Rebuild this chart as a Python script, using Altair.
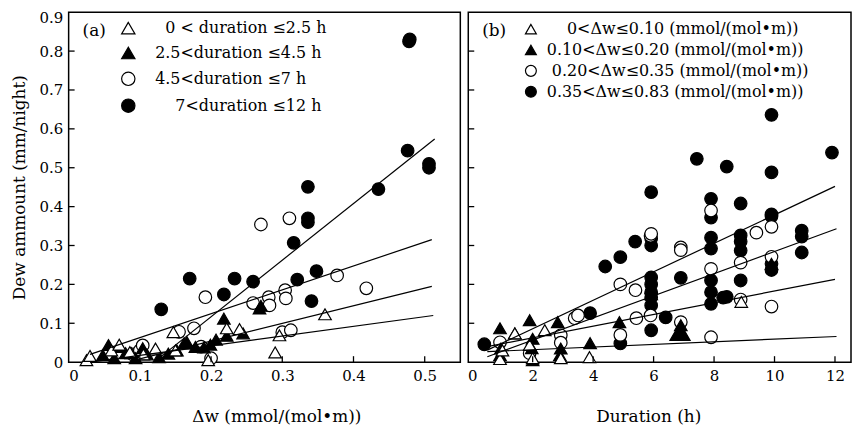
import altair as alt
import pandas as pd

FONT = "DejaVu Serif"
Z = "\u200b"   # keeps the leading non-breaking spaces from being trimmed
S = "\u00a0"

# ---------------- Panel (a): dew amount vs Δw, grouped by duration ----------------
a_labels = [Z + S * 2 + "0 < duration ≤2.5 h", "2.5<duration ≤4.5 h",
            "4.5<duration ≤7 h", Z + S * 4 + "7<duration ≤12 h"]
shapes = ["triangle-up", "triangle-up", "circle", "circle"]
fills = ["white", "black", "white", "black"]
strokes = ["black", "black", "black", "black"]

# 7 < duration <= 12 h (filled circles)
a4_x = [0.130, 0.170, 0.218, 0.233, 0.259, 0.316, 0.321, 0.336, 0.336, 0.336, 0.341, 0.348,
        0.435, 0.476, 0.479, 0.478, 0.506, 0.506]
a4_y = [0.136, 0.215, 0.174, 0.215, 0.207, 0.307, 0.212, 0.360, 0.370, 0.451, 0.157, 0.234,
        0.445, 0.544, 0.830, 0.825, 0.500, 0.510]
# 4.5 < duration <= 7 h (open circles)
a3_x = [0.090, 0.100, 0.104, 0.155, 0.176, 0.186, 0.192, 0.200, 0.259, 0.270, 0.281, 0.282,
        0.300, 0.304, 0.305, 0.310, 0.312, 0.377, 0.418]
a3_y = [0.020, 0.030, 0.043, 0.078, 0.087, 0.040, 0.167, 0.010, 0.152, 0.354, 0.167, 0.146,
        0.077, 0.185, 0.164, 0.370, 0.082, 0.223, 0.190]
# 2.5 < duration <= 4.5 h (filled triangles)
a2_x = [0.048, 0.056, 0.064, 0.072, 0.080, 0.088, 0.094, 0.104, 0.110, 0.127, 0.140, 0.152,
        0.162, 0.166, 0.178, 0.190, 0.199, 0.207, 0.218, 0.222, 0.245, 0.268, 0.270]
a2_y = [0.018, 0.044, 0.010, 0.039, 0.023, 0.023, 0.010, 0.036, 0.020, 0.013, 0.022, 0.030,
        0.048, 0.052, 0.039, 0.038, 0.045, 0.058, 0.112, 0.068, 0.074, 0.138, 0.145]
# 0 < duration <= 2.5 h (open triangles)
a1_x = [0.025, 0.030, 0.060, 0.071, 0.086, 0.105, 0.122, 0.147, 0.150, 0.196, 0.222, 0.240,
        0.290, 0.296, 0.360]
a1_y = [0.005, 0.016, 0.030, 0.045, 0.026, 0.020, 0.035, 0.077, 0.030, 0.005, 0.087, 0.085,
        0.025, 0.069, 0.123]

# fitted lines (start/end points)
a_line_x = [[0.03, 0.512], [0.09, 0.51], [0.03, 0.51], [0.12, 0.514]]
a_line_y = [[0.000, 0.120], [0.004, 0.195], [0.020, 0.315], [0.000, 0.574]]

# ---------------- Panel (b): dew amount vs duration, grouped by Δw ----------------
b_labels = [Z + S * 4 + "0<Δw≤0.10 (mmol/(mol•m))", "0.10<Δw≤0.20 (mmol/(mol•m))",
            Z + S + "0.20<Δw≤0.35 (mmol/(mol•m))", "0.35<Δw≤0.83 (mmol/(mol•m))"]

b4_x = [0.40, 3.90, 4.40, 4.90, 4.90, 5.39, 5.92, 5.92, 5.92, 5.92, 5.92, 5.92, 5.92, 5.92,
        5.92, 6.40, 6.90, 7.43, 7.90, 7.90, 7.90, 7.90, 7.90, 7.90, 7.90, 8.30, 8.42, 8.42,
        8.88, 8.88, 8.88, 8.88, 8.88, 9.90, 9.90, 9.90, 9.90, 9.90, 9.90, 10.90, 10.90, 10.90,
        11.90]
b4_y = [0.046, 0.126, 0.246, 0.270, 0.048, 0.310, 0.437, 0.318, 0.300, 0.218, 0.200, 0.180,
        0.167, 0.146, 0.082, 0.115, 0.217, 0.523, 0.420, 0.372, 0.320, 0.292, 0.210, 0.180,
        0.150, 0.166, 0.503, 0.168, 0.408, 0.326, 0.310, 0.287, 0.210, 0.636, 0.488, 0.380,
        0.375, 0.253, 0.237, 0.338, 0.323, 0.282, 0.539]
b3_x = [0.92, 1.90, 2.93, 2.93, 3.39, 3.50, 4.90, 4.90, 5.40, 5.43, 5.90, 5.90, 5.92, 6.90,
        6.90, 6.90, 7.90, 7.90, 7.90, 8.88, 8.88, 9.40, 9.90, 9.90, 9.90]
b3_y = [0.051, 0.023, 0.069, 0.050, 0.113, 0.120, 0.200, 0.070, 0.185, 0.113, 0.120, 0.325,
        0.330, 0.295, 0.288, 0.103, 0.240, 0.390, 0.064, 0.256, 0.161, 0.333, 0.348, 0.271,
        0.143]
b2_x = [0.92, 0.92, 0.95, 1.41, 1.90, 1.97, 2.00, 2.00, 2.83, 2.90, 2.93, 3.90, 4.87, 5.92,
        5.92, 6.75, 6.90, 6.90, 7.00, 9.90]
b2_y = [0.087, 0.018, 0.035, 0.074, 0.108, 0.036, 0.005, 0.060, 0.103, 0.018, 0.035, 0.049,
        0.103, 0.190, 0.175, 0.070, 0.095, 0.080, 0.070, 0.253]
b1_x = [0.92, 1.00, 1.41, 1.90, 2.00, 2.40, 2.93, 3.88, 8.90]
b1_y = [0.008, 0.030, 0.074, 0.044, 0.010, 0.082, 0.010, 0.013, 0.155]

b_line_x = [[0.5, 12.05], [0.5, 12.0], [0.5, 12.05], [0.5, 12.0]]
b_line_y = [[0.027, 0.066], [0.040, 0.213], [0.014, 0.343], [0.031, 0.452]]

# axis ticks
y_ticks = [0, 0.1, 0.2, 0.3, 0.4, 0.5, 0.6, 0.7, 0.8, 0.9]
a_x_ticks = [0, 0.1, 0.2, 0.3, 0.4, 0.5]
b_x_ticks = [0, 2, 4, 6, 8, 10, 12]
y_inner_ticks = [0.1, 0.2, 0.3, 0.4, 0.5, 0.6, 0.7, 0.8]
a_inner_xticks = [0.1, 0.2, 0.3, 0.4, 0.5]
b_inner_xticks = [2, 4, 6, 8, 10, 12]

W_A, W_B, H = 394, 385, 352
TICK = 6


def points_df(xs_list, ys_list, labels, order, field):
    rows = []
    for i in order:
        for x, y in zip(xs_list[i], ys_list[i]):
            rows.append({"x": x, "y": y, field: labels[i]})
    return pd.DataFrame(rows)


def lines_df(lx, ly):
    rows = []
    for i, (xs, ys) in enumerate(zip(lx, ly)):
        for x, y in zip(xs, ys):
            rows.append({"x": x, "y": y, "line": i})
    return pd.DataFrame(rows)


def make_legend(lx, ly, loff, ssize, rpad):
    return alt.Legend(title=None, orient="none", legendX=lx, legendY=ly,
                      labelFont=FONT, labelFontSize=16, labelColor="black",
                      labelLimit=400, labelOffset=loff, symbolSize=ssize,
                      symbolStrokeWidth=1.2,
                      rowPadding=rpad, padding=0)


def panel(df, field, ldf, labels, tag, xdom, xvals, xfmt, xtitle, title_x, inner_x, width,
          show_y, leg):
    xscale = alt.Scale(domain=xdom, nice=False, zero=False)
    yscale = alt.Scale(domain=[0, 0.9], nice=False, zero=False)
    xaxis = alt.Axis(values=xvals, format=xfmt, ticks=False, domain=False, grid=False,
                     labelFont=FONT, labelFontSize=15, labelColor="black", labelPadding=6,
                     labelOverlap=False,
                     title=xtitle, titleFont=FONT, titleFontSize=17, titleFontWeight="normal",
                     titleColor="black", titlePadding=26, titleX=title_x)
    if show_y:
        yaxis = alt.Axis(values=y_ticks, format=".1~f", ticks=False, domain=False,
                         grid=False, labelFont=FONT, labelFontSize=15, labelColor="black",
                         labelPadding=6, labelOverlap=False, labelFlush=False,
                         labelOffset={"condition": {"test": "datum.value > 0.85", "value": 5},
                                      "value": 0},
                         title="Dew ammount (mm/night)", titleFont=FONT,
                         titleFontSize=17, titleFontWeight="normal", titleColor="black",
                         titlePadding=11)
    else:
        yaxis = alt.Axis(labels=False, ticks=False, domain=False, grid=False, title=None)

    X = alt.X("x:Q", scale=xscale, axis=xaxis)
    Y = alt.Y("y:Q", scale=yscale, axis=yaxis)

    pts = alt.Chart(df).mark_point(filled=True, strokeWidth=1.2, opacity=1, size=160).encode(
        x=X, y=Y,
        shape=alt.Shape(f"{field}:N", scale=alt.Scale(domain=labels, range=shapes), legend=leg),
        fill=alt.Fill(f"{field}:N", scale=alt.Scale(domain=labels, range=fills), legend=leg),
        stroke=alt.Stroke(f"{field}:N", scale=alt.Scale(domain=labels, range=strokes), legend=leg),
    )

    lns = alt.Chart(ldf).mark_line(color="black", strokeWidth=1.2).encode(
        x=X, y=Y, detail="line:N",
    )

    xt = alt.Chart(pd.DataFrame({"x": inner_x})).mark_rule(color="black", strokeWidth=1.3).encode(
        x=X, y=alt.value(H), y2=alt.value(H - TICK))
    yt = alt.Chart(pd.DataFrame({"y": y_inner_ticks})).mark_rule(color="black", strokeWidth=1.3).encode(
        y=Y, x=alt.value(0), x2=alt.value(TICK))

    tagc = alt.Chart(pd.DataFrame({"t": [tag]})).mark_text(
        font=FONT, fontSize=17, align="left", baseline="middle", color="black"
    ).encode(text="t:N", x=alt.value(14), y=alt.value(19))

    return alt.layer(pts, lns, xt, yt, tagc).properties(width=width, height=H)


dfa = points_df([a1_x, a2_x, a3_x, a4_x], [a1_y, a2_y, a3_y, a4_y], a_labels, [3, 2, 1, 0], "dur")
dfb = points_df([b1_x, b2_x, b3_x, b4_x], [b1_y, b2_y, b3_y, b4_y], b_labels, [3, 2, 1, 0], "dw")

pa = panel(dfa, "dur", lines_df(a_line_x, a_line_y), a_labels, "(a)", [0, 0.55], a_x_ticks, ".1~f",
           "Δw (mmol/(mol•m))", 209, a_inner_xticks, W_A, True,
           make_legend(52, 8, 19, 180, 7))
pb = panel(dfb, "dw", lines_df(b_line_x, b_line_y), b_labels, "(b)", [-0.13, 12.53], b_x_ticks, "d",
           "Duration (h)", 181, b_inner_xticks, W_B, False,
           make_legend(55, 9, 8, 120, 5))

chart = alt.hconcat(pa, pb, spacing=5).resolve_scale(
    x="independent", y="independent", shape="independent", fill="independent",
    stroke="independent"
).properties(
    padding={"left": 1, "top": 0, "right": 0, "bottom": 0},
    background="white",
).configure(
    font=FONT
).configure_view(
    stroke="black", strokeWidth=1.5
)

chart.save("out.html", embed_options={"renderer": "svg", "actions": False})
